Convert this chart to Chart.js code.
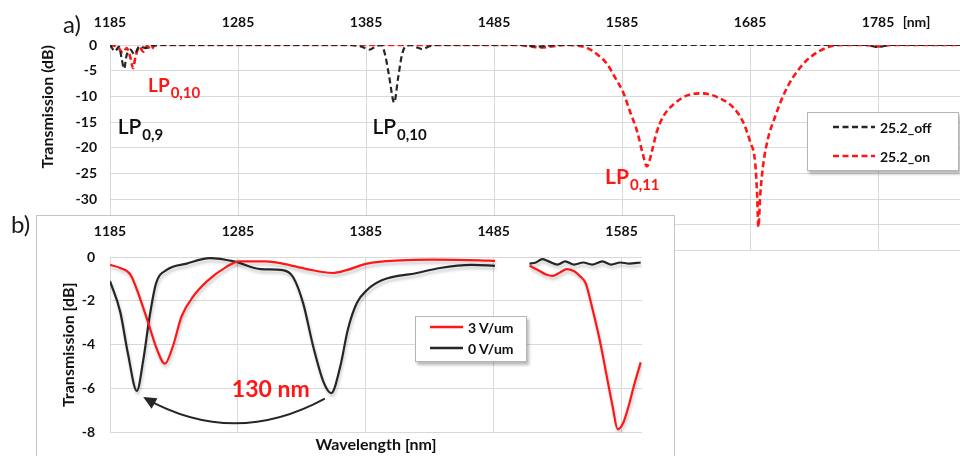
<!DOCTYPE html>
<html>
<head>
<meta charset="utf-8">
<script src="https://cdn.jsdelivr.net/npm/chart.js@4"></script>
<style>
  body { margin: 0; width: 960px; height: 456px; overflow: hidden; background: #fff; position: relative; font-family: Lato, "Open Sans", sans-serif; }
  #topWrap { position: absolute; left: 0; top: 0; width: 960px; height: 272px; }
  #inset { position: absolute; left: 36px; top: 215px; width: 637px; height: 260px; background: #fff; border: 1px solid #c4c4c4; }
  #insetWrap { position: absolute; left: 0; top: 0; width: 636px; height: 240px; }
  .tag { position: absolute; font-size: 24px; color: #1a1a1a; line-height: 1; }
  .legend { position: absolute; background: #fff; border: 1px solid #b5b5b5; box-shadow: 2px 3px 3px rgba(0,0,0,0.28); font-weight: bold; font-size: 14px; color: #111; }
  .legend .row { position: absolute; left: 0; height: 18px; display: flex; align-items: center; white-space: nowrap; }
  .legend svg { display: block; margin-right: 5px; }
</style>
</head>
<body>
<div id="topWrap"><canvas id="topChart"></canvas></div>
<div class="tag" style="left:63px;top:12px;">a)</div>
<div class="legend" id="topLegend" style="left:807px;top:112px;width:150px;height:57px;"></div>
<div id="inset">
  <div id="insetWrap"><canvas id="insetChart"></canvas></div>
</div>
<div class="legend" id="insetLegend" style="left:415px;top:316px;width:110px;height:44px;"></div>
<div class="tag" style="left:11px;top:212px;">b)</div>

<script>
// ---- panel a) : 25.2 off / on ----
const topTicks = [1185, 1285, 1385, 1485, 1585, 1685, 1785];
const topDbTicks = [0, -5, -10, -15, -20, -25, -30, -35, -40];

const offWl = [1185, 1189, 1192, 1194, 1196, 1198, 1201, 1204, 1208, 1213, 1218, 1225,
  1372, 1381, 1388, 1393, 1397, 1400, 1403, 1407, 1410, 1413, 1416, 1420, 1425, 1429, 1434, 1440,
  1505, 1520, 1535, 1775, 1785, 1795, 1849];
const offDb = [0, -1.2, -0.3, -2.5, -4.6, -2, -0.9, -1.8, -0.3, -0.6, -0.1, 0,
  0, -0.3, -0.9, -0.2, 0, -2, -6, -11.2, -6.5, -2, -0.2, 0, -0.5, -0.8, -0.3, 0,
  0, -0.3, 0, 0, -0.4, 0, 0];

const onWl = [1185, 1191, 1195, 1198, 1201, 1203, 1205, 1208, 1211, 1214, 1217, 1220, 1228,
  1505, 1514, 1522, 1530, 1540, 1550, 1558, 1565.5, 1573, 1579.5, 1586, 1591, 1597, 1601, 1604.5, 1608.5,
  1612, 1617, 1625, 1636, 1647.5, 1659, 1672, 1680, 1685, 1689, 1690.5, 1691.5, 1693, 1695.5, 1699,
  1704.5, 1711, 1718.5, 1728, 1737, 1747.5, 1760, 1775, 1785, 1795, 1849];
const onDb = [0, -0.4, -1.5, -0.6, -2.5, -4.5, -2.2, -0.4, -1.3, -0.2, -0.9, -0.1, 0,
  0, -0.3, -0.5, -0.3, 0, -0.1, -0.6, -1.8, -3.6, -6.3, -9.3, -12.8, -17, -21, -23.6, -20.5,
  -17, -14, -11.6, -9.8, -9.4, -10.1, -12.2, -15.2, -18.8, -22.9, -29, -35.4, -29, -22.9, -18.2,
  -14, -9.8, -6.3, -3.3, -1.5, -0.3, 0, 0, -0.3, 0, 0];

// ---- panel b) : 3 V/um vs 0 V/um ----
const insetTicks = [1185, 1285, 1385, 1485, 1585];
const insetDbTicks = [0, -2, -4, -6, -8];

const v3Wl = [1185, 1193, 1201, 1208, 1216, 1221, 1228, 1234, 1241, 1250, 1261, 1276, 1286, 1307, 1320,
  1339, 1359, 1370, 1386, 1412, 1437, 1474, 1486, 1500, 1513, 1520, 1526, 1531, 1537, 1542, 1548, 1553,
  1557, 1562, 1568, 1573, 1578, 1582, 1586, 1590, 1595, 1600];
const v3Db = [-0.36, -0.5, -0.8, -1.8, -3.2, -4.1, -4.86, -4.1, -2.7, -1.8, -1.1, -0.45, -0.2, -0.2, -0.3,
  -0.55, -0.73, -0.6, -0.3, -0.15, -0.12, -0.15, -0.18, null, -0.4, -0.6, -0.8, -0.86, -0.7, -0.55, -0.65, -0.9,
  -1.2, -2.3, -3.8, -5.3, -6.8, -7.85, -7.6, -6.9, -5.8, -4.8];

const v0Wl = [1185, 1193, 1199, 1206, 1211, 1216, 1221, 1229, 1245, 1263, 1282, 1303, 1320, 1328, 1336,
  1344, 1352, 1358, 1365, 1371, 1378, 1386, 1398, 1425, 1443, 1468, 1486, 1500, 1513, 1518, 1523, 1528,
  1535, 1541, 1548, 1555, 1562, 1570, 1577, 1584, 1591, 1600];
const v0Db = [-1.1, -2.5, -4.4, -6.1, -4.7, -2.7, -1.2, -0.6, -0.3, -0.05, -0.2, -0.55, -0.6, -0.9, -2.1,
  -4.1, -5.7, -6.2, -5, -3.3, -2.1, -1.5, -1.05, -0.73, -0.5, -0.36, -0.4, null, -0.3, -0.25, -0.1, -0.2,
  -0.35, -0.2, -0.35, -0.25, -0.35, -0.2, -0.35, -0.25, -0.3, -0.25];

const RED = '#ff1616';
const BLACK = '#262626';
const GRID = '#d9d9d9';
const FONT = 'Lato, "Open Sans", sans-serif';

const pts = (xs, ys) => xs.map((x, i) => ({ x: x, y: ys[i] }));

// text labels placed in data units
function notesPlugin(items, arrow) {
  return {
    id: 'notes',
    afterDatasetsDraw(chart) {
      const ctx = chart.ctx, xs = chart.scales.x, ys = chart.scales.y;
      ctx.save();
      items.forEach(n => {
        const px = xs.getPixelForValue(n.x), py = ys.getPixelForValue(n.y);
        ctx.fillStyle = n.color;
        ctx.textBaseline = 'alphabetic';
        ctx.textAlign = 'left';
        ctx.font = `${n.weight} ${n.size}px ${FONT}`;
        ctx.fillText(n.main, px, py);
        if (n.sub) {
          const w = ctx.measureText(n.main).width;
          ctx.font = `bold ${n.subSize}px ${FONT}`;
          ctx.fillText(n.sub, px + w + 1, py + n.subSize * 0.4);
        }
      });
      if (arrow) {
        const x0 = xs.getPixelForValue(arrow.from[0]), y0 = ys.getPixelForValue(arrow.from[1]);
        const cx = xs.getPixelForValue(arrow.ctrl[0]), cy = ys.getPixelForValue(arrow.ctrl[1]);
        const x1 = xs.getPixelForValue(arrow.to[0]), y1 = ys.getPixelForValue(arrow.to[1]);
        ctx.strokeStyle = BLACK;
        ctx.fillStyle = BLACK;
        ctx.lineWidth = 2;
        ctx.beginPath();
        ctx.moveTo(x0, y0);
        ctx.quadraticCurveTo(cx, cy, x1, y1);
        ctx.stroke();
        const a = Math.atan2(y1 - cy, x1 - cx);
        ctx.beginPath();
        ctx.moveTo(x1 + 3 * Math.cos(a), y1 + 3 * Math.sin(a));
        ctx.lineTo(x1 - 10 * Math.cos(a) + 6 * Math.sin(a), y1 - 10 * Math.sin(a) - 6 * Math.cos(a));
        ctx.lineTo(x1 - 10 * Math.cos(a) - 6 * Math.sin(a), y1 - 10 * Math.sin(a) + 6 * Math.cos(a));
        ctx.closePath();
        ctx.fill();
      }
      ctx.restore();
    }
  };
}

const shadowPlugin = {
  id: 'lineShadow',
  beforeDatasetDraw(chart) {
    const ctx = chart.ctx;
    ctx.save();
    ctx.shadowColor = 'rgba(0,0,0,0.22)';
    ctx.shadowBlur = 3;
    ctx.shadowOffsetX = 1;
    ctx.shadowOffsetY = 3;
  },
  afterDatasetDraw(chart) { chart.ctx.restore(); }
};

const tickFont = { family: FONT, size: 14, weight: 'bold' };
const titleFont = { family: FONT, size: 16, weight: 'bold' };
const plainNum = v => String(v);

const topSets = [
  { label: '25.2_off', data: pts(offWl, offDb), color: BLACK, width: 2.2 },
  { label: '25.2_on', data: pts(onWl, onDb), color: RED, width: 2.6 }
];

new Chart(document.getElementById('topChart'), {
  type: 'line',
  data: {
    datasets: topSets.map(s => ({
      label: s.label, data: s.data, borderColor: s.color, borderWidth: s.width,
      borderDash: [6, 3.5], pointRadius: 0, cubicInterpolationMode: 'monotone', fill: false
    }))
  },
  options: {
    responsive: true, maintainAspectRatio: false, animation: false,
    layout: { padding: { top: 0, right: 0, bottom: 2, left: 0 } },
    plugins: { legend: { display: false }, tooltip: { enabled: false } },
    scales: {
      x: {
        type: 'linear', position: 'top', min: 1185, max: 1849,
        afterBuildTicks: s => { s.ticks = topTicks.concat([1815]).map(v => ({ value: v })); },
        afterFit: s => { s.height = 45; },
        ticks: { font: tickFont, color: '#111', padding: 14, maxRotation: 0, autoSkip: false,
          callback: v => v === 1815 ? '[nm]' : String(v) },
        grid: { color: c => (c.tick && c.tick.value === 1815) ? 'rgba(0,0,0,0)' : GRID, drawTicks: false },
        border: { display: false }
      },
      y: {
        min: -40, max: 0,
        afterBuildTicks: s => { s.ticks = topDbTicks.map(v => ({ value: v })); },
        afterFit: s => { s.width = 110; },
        ticks: { font: tickFont, color: '#111', padding: 13, callback: plainNum },
        grid: { color: GRID, drawTicks: false },
        border: { display: false },
        title: { display: true, text: 'Transmission (dB)', align: 'end', font: titleFont, color: '#111',
          padding: { top: 38, bottom: 0 } }
      }
    }
  },
  plugins: [notesPlugin([
    { x: 1214.7, y: -9.1, main: 'LP', sub: '0,10', color: RED, weight: 'bold', size: 19, subSize: 15 },
    { x: 1191, y: -17.3, main: 'LP', sub: '0,9', color: '#111', weight: '600', size: 21, subSize: 15 },
    { x: 1390, y: -17.3, main: 'LP', sub: '0,10', color: '#111', weight: '600', size: 21, subSize: 15 },
    { x: 1571.7, y: -27.1, main: 'LP', sub: '0,11', color: RED, weight: 'bold', size: 21, subSize: 15 }
  ], null)]
});

const insetSets = [
  { label: '3 V/um', data: pts(v3Wl, v3Db), color: RED },
  { label: '0 V/um', data: pts(v0Wl, v0Db), color: BLACK }
];

new Chart(document.getElementById('insetChart'), {
  type: 'line',
  data: {
    datasets: insetSets.map(s => ({
      label: s.label, data: s.data, borderColor: s.color, borderWidth: 2.2,
      pointRadius: 0, cubicInterpolationMode: 'monotone', fill: false, spanGaps: false
    }))
  },
  options: {
    responsive: true, maintainAspectRatio: false, animation: false,
    layout: { padding: { top: 0, right: 31, bottom: 0, left: 0 } },
    plugins: { legend: { display: false }, tooltip: { enabled: false } },
    scales: {
      x: {
        type: 'linear', position: 'top', min: 1185, max: 1601,
        afterBuildTicks: s => { s.ticks = insetTicks.map(v => ({ value: v })); },
        afterFit: s => { s.height = 41; },
        ticks: { font: tickFont, color: '#111', padding: 17, maxRotation: 0, autoSkip: false, callback: plainNum },
        grid: { color: GRID, drawTicks: false },
        border: { display: false }
      },
      x2: {
        type: 'linear', position: 'bottom', min: 1185, max: 1601,
        afterFit: s => { s.height = 23; },
        ticks: { display: false },
        grid: { display: false },
        border: { display: false },
        title: { display: true, text: 'Wavelength [nm]', font: titleFont, color: '#111', padding: { top: 0, bottom: 1 } }
      },
      y: {
        min: -8, max: 0,
        afterBuildTicks: s => { s.ticks = insetDbTicks.map(v => ({ value: v })); },
        afterFit: s => { s.width = 73; },
        ticks: { font: tickFont, color: '#111', padding: 15, callback: plainNum },
        grid: { color: GRID, drawTicks: false },
        border: { display: false },
        title: { display: true, text: 'Transmission [dB]', font: titleFont, color: '#111',
          padding: { top: 22, bottom: 0 } }
      }
    }
  },
  plugins: [shadowPlugin, notesPlugin([
    { x: 1280.3, y: -6.36, main: '130 nm', sub: '', color: RED, weight: 'bold', size: 23, subSize: 0 }
  ], { from: [1353, -6.45], ctrl: [1282, -8.7], to: [1213, -6.45] })]
});

// legends built from the series definitions
function buildLegend(id, sets, rowTops, lineLeft, lineW, dashed) {
  const box = document.getElementById(id);
  sets.forEach((s, i) => {
    const row = document.createElement('div');
    row.className = 'row';
    row.style.top = rowTops[i] + 'px';
    row.style.left = lineLeft + 'px';
    const dash = dashed ? `stroke-dasharray="6 3.5"` : '';
    row.innerHTML = `<svg width="${lineW}" height="6"><line x1="0" y1="3" x2="${lineW}" y2="3" stroke="${s.color}" stroke-width="2.4" ${dash}/></svg><span>${s.label}</span>`;
    box.appendChild(row);
  });
}
buildLegend('topLegend', topSets, [5, 34], 25, 42, true);
buildLegend('insetLegend', insetSets, [1, 22], 14, 33, false);
</script>
</body>
</html>
